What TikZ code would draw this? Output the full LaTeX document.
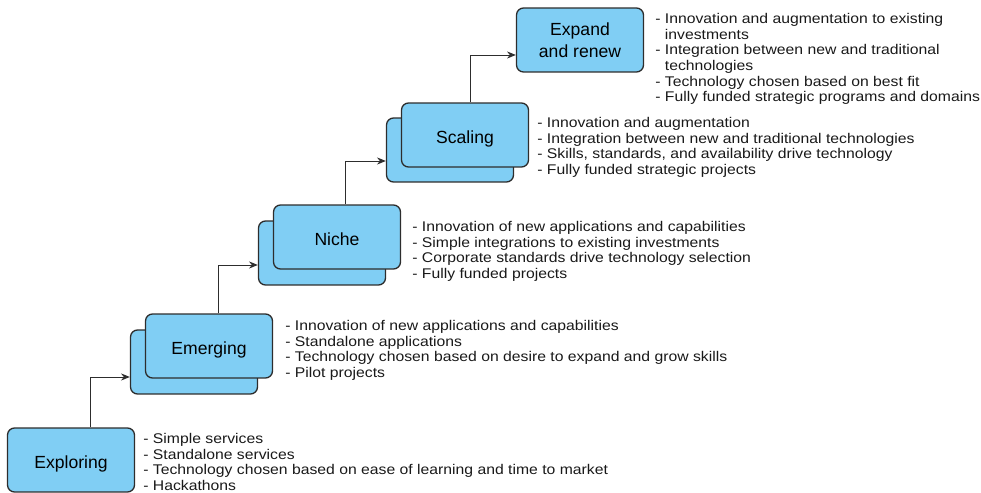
\documentclass[tikz,border=0pt]{standalone}
\usepackage{fontspec}
\setmainfont{Liberation Sans}
\newfontfamily\notefont{Liberation Sans}[FakeStretch=1.12]
\usetikzlibrary{arrows.meta}
\definecolor{stagefill}{RGB}{128,206,244}
\definecolor{stageline}{RGB}{45,45,45}
\tikzset{
  stage/.style={draw=stageline,fill=stagefill,line width=0.75pt,rounded corners=4pt,
    minimum width=2.54cm,minimum height=1.28cm,inner sep=0pt,align=center,
    text depth=0pt,font=\fontsize{10}{12.5}\selectfont},
  oneline/.style={text height=9.3pt},
  notes/.style={anchor=north west,inner sep=0pt,align=left,text=black!90,
    font=\notefont\fontsize{8}{8.9}\selectfont},
  flow/.style={-{Stealth[length=5pt,width=4pt]},draw=stageline,line width=0.55pt}
}

\begin{document}
\begin{tikzpicture}[x=0.02cm,y=-0.02cm]
      \useasboundingbox (0,0) rectangle (981,493);
      % stages, the stacked ones get a copy behind them
      \node[stage,oneline] (exploring) at (71,460) {Exploring};
      \node[stage] (emerging back) at (194,362) {};
      \node[stage,oneline] (emerging) at (209,346) {Emerging};
      \node[stage] (niche back) at (322,253) {};
      \node[stage,oneline] (niche) at (337,237) {Niche};
      \node[stage] (scaling back) at (450,150) {};
      \node[stage,oneline] (scaling) at (465,135) {Scaling};
      \node[stage] (expand) at (580,40) {Expand\\and renew};
      % steps up
      \draw[flow] ([xshift=0.38cm]exploring.north) |- ([yshift=-0.3cm]emerging back.west);
      \draw[flow] ([xshift=0.18cm]emerging.north) |- ([yshift=-0.24cm]niche back.west);
      \draw[flow] ([xshift=0.16cm]niche.north) |- ([yshift=-0.22cm]scaling back.west);
      \draw[flow] ([xshift=0.1cm]scaling.north) |- ([yshift=-0.3cm]expand.west);
      % what goes with each stage
      \node[notes] (exploring notes) at (143,433) {- Simple services\\- Standalone services\\- Technology chosen based on ease of learning and time to market\\- Hackathons};
      \node[notes] (emerging notes) at (285,320) {- Innovation of new applications and capabilities\\- Standalone applications\\- Technology chosen based on desire to expand and grow skills\\- Pilot projects};
      \node[notes] (niche notes) at (412,221) {- Innovation of new applications and capabilities\\- Simple integrations to existing investments\\- Corporate standards drive technology selection\\- Fully funded projects};
      \node[notes] (scaling notes) at (537,117) {- Innovation and augmentation\\- Integration between new and traditional technologies\\- Skills, standards, and availability drive technology\\- Fully funded strategic projects};
      \node[notes] (expand notes) at (655,13) {- Innovation and augmentation to existing\\\phantom{- }investments\\- Integration between new and traditional\\\phantom{- }technologies\\- Technology chosen based on best fit\\- Fully funded strategic programs and domains};
    \end{tikzpicture}
\end{document}
